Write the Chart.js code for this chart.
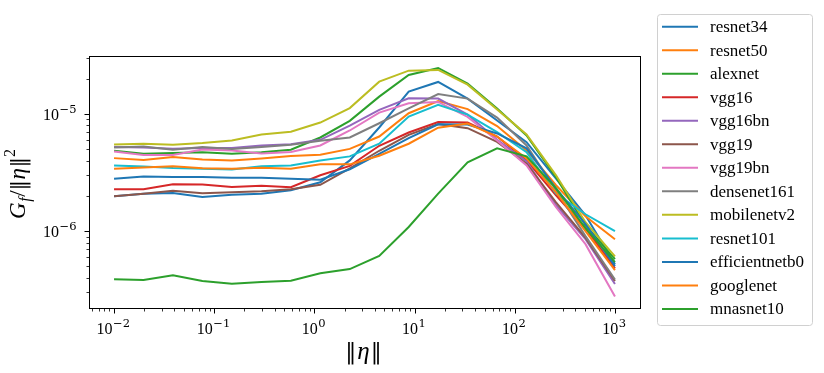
<!DOCTYPE html>
<html>
<head>
<meta charset="utf-8">
<script src="https://cdn.jsdelivr.net/npm/chart.js@4.4.1/dist/chart.umd.min.js"></script>
<style>
	html, body { margin: 0; padding: 0; background: #fff; }
	canvas { display: block; }
</style>
</head>
<body>
<canvas id="chart" width="824" height="373" style="width:824px;height:373px"></canvas>
<script>
'use strict';

// noise norm ||eta|| (x axis, log spaced)
var eta = [0.01, 0.0197, 0.0387, 0.0762, 0.150, 0.296, 0.582, 1.145, 2.254, 4.437, 8.733, 17.19, 33.83, 66.6, 131.1, 258.0, 507.9, 1000];

// G_f / ||eta||^2 per network
var resnet34 = [1.986e-6, 2.086e-6, 2.119e-6, 1.959e-6, 2.046e-6, 2.086e-6, 2.234e-6, 2.616e-6, 4.02e-6, 7.68e-6, 15.54e-6, 18.80e-6, 13.55e-6, 8.80e-6, 5.75e-6, 2.81e-6, 1.368e-6, 0.523e-6];
var resnet50 = [4.205e-6, 4.06e-6, 4.29e-6, 4.10e-6, 4.02e-6, 4.18e-6, 4.39e-6, 4.50e-6, 5.04e-6, 6.43e-6, 10.16e-6, 12.90e-6, 11.03e-6, 7.90e-6, 4.89e-6, 2.467e-6, 1.342e-6, 0.855e-6];
var alexnet = [4.86e-6, 4.58e-6, 4.64e-6, 4.73e-6, 4.58e-6, 4.73e-6, 4.96e-6, 6.31e-6, 8.75e-6, 14.09e-6, 21.56e-6, 24.74e-6, 18.18e-6, 11.14e-6, 6.57e-6, 2.89e-6, 1.124e-6, 0.577e-6];
var vgg16 = [2.278e-6, 2.278e-6, 2.515e-6, 2.505e-6, 2.38e-6, 2.443e-6, 2.372e-6, 3.00e-6, 3.61e-6, 5.36e-6, 6.96e-6, 8.545e-6, 8.46e-6, 6.43e-6, 4.02e-6, 2.026e-6, 1.061e-6, 0.482e-6];
var vgg16bn = [5.24e-6, 5.19e-6, 5.06e-6, 5.14e-6, 5.14e-6, 5.39e-6, 5.52e-6, 6.03e-6, 7.98e-6, 10.86e-6, 13.63e-6, 13.55e-6, 9.90e-6, 6.03e-6, 3.94e-6, 1.665e-6, 0.855e-6, 0.354e-6];
var vgg19 = [1.986e-6, 2.086e-6, 2.212e-6, 2.107e-6, 2.148e-6, 2.191e-6, 2.278e-6, 2.491e-6, 3.44e-6, 4.86e-6, 6.65e-6, 8.22e-6, 7.57e-6, 5.78e-6, 3.77e-6, 1.765e-6, 0.880e-6, 0.376e-6];
var vgg19bn = [4.795e-6, 4.48e-6, 4.48e-6, 4.99e-6, 4.89e-6, 4.61e-6, 4.75e-6, 5.39e-6, 7.24e-6, 10.30e-6, 12.36e-6, 12.70e-6, 9.44e-6, 5.95e-6, 3.645e-6, 1.601e-6, 0.775e-6, 0.2775e-6];
var densenet161 = [5.19e-6, 5.29e-6, 4.96e-6, 5.22e-6, 5.02e-6, 5.24e-6, 5.47e-6, 5.91e-6, 6.31e-6, 8.35e-6, 11.20e-6, 14.80e-6, 13.55e-6, 9.33e-6, 5.39e-6, 2.234e-6, 0.907e-6, 0.387e-6];
var mobilenetv2 = [5.50e-6, 5.58e-6, 5.47e-6, 5.66e-6, 5.95e-6, 6.69e-6, 7.06e-6, 8.46e-6, 11.25e-6, 18.91e-6, 23.46e-6, 23.78e-6, 17.83e-6, 10.92e-6, 6.69e-6, 3.00e-6, 1.192e-6, 0.609e-6];
var resnet101 = [3.645e-6, 3.57e-6, 3.46e-6, 3.42e-6, 3.355e-6, 3.58e-6, 3.645e-6, 4.02e-6, 4.35e-6, 5.58e-6, 9.52e-6, 11.97e-6, 9.90e-6, 7.00e-6, 4.73e-6, 2.093e-6, 1.395e-6, 1.000e-6];
var efficientnetb0 = [2.81e-6, 2.925e-6, 2.903e-6, 2.903e-6, 2.857e-6, 2.857e-6, 2.81e-6, 2.747e-6, 3.375e-6, 4.58e-6, 6.22e-6, 8.18e-6, 8.14e-6, 6.83e-6, 5.09e-6, 2.323e-6, 1.147e-6, 0.503e-6];
var googlenet = [3.42e-6, 3.49e-6, 3.58e-6, 3.44e-6, 3.42e-6, 3.48e-6, 3.42e-6, 3.73e-6, 3.72e-6, 4.41e-6, 5.58e-6, 7.65e-6, 8.30e-6, 6.43e-6, 4.18e-6, 2.148e-6, 1.000e-6, 0.466e-6];
var mnasnet10 = [0.388e-6, 0.383e-6, 0.420e-6, 0.376e-6, 0.356e-6, 0.368e-6, 0.378e-6, 0.437e-6, 0.475e-6, 0.616e-6, 1.087e-6, 2.093e-6, 3.87e-6, 5.09e-6, 4.35e-6, 2.323e-6, 1.061e-6, 0.544e-6];

var names = ['resnet34', 'resnet50', 'alexnet', 'vgg16', 'vgg16bn', 'vgg19', 'vgg19bn', 'densenet161', 'mobilenetv2', 'resnet101', 'efficientnetb0', 'googlenet', 'mnasnet10'];
var series = [resnet34, resnet50, alexnet, vgg16, vgg16bn, vgg19, vgg19bn, densenet161, mobilenetv2, resnet101, efficientnetb0, googlenet, mnasnet10];

// matplotlib tab10 cycle
var colors = ['#1f77b4', '#ff7f0e', '#2ca02c', '#d62728', '#9467bd', '#8c564b', '#e377c2', '#7f7f7f', '#bcbd22', '#17becf'];

// major ticks: value and exponent shown as 10^exp
var xTickValues = [1e-2, 1e-1, 1, 10, 100, 1000];
var xTickExps = ['\u22122', '\u22121', '0', '1', '2', '3'];
var yTickValues = [1e-6, 1e-5];
var yTickExps = ['\u22126', '\u22125'];

// axis limits (matplotlib 5% margins in log space)
var xMin = 0.005623, xMax = 1778;
var yMin = 2.21e-7, yMax = 3.13e-5;

var serif = '"Liberation Serif", "DejaVu Serif", serif';
var barFont = '"DejaVu Serif", serif';

function minorValues(min, max) {
	var out = [];
	for( var e = -8; e <= 4; e++ ) {
		for( var m = 2; m <= 9; m++ ) {
			var v = m * Math.pow(10, e);
			if( v >= min && v <= max ) out.push(v);
		}
	}
	return out;
}

// draws a list of text pieces side by side, centred on 0
function drawPieces(ctx, parts) {
	var total = 0;
	parts.forEach(function( p ) {
		ctx.font = p.f;
		p.w = ctx.measureText(p.t).width + (p.gap || 0);
		total += p.w;
	});
	var x = -total / 2;
	parts.forEach(function( p ) {
		ctx.font = p.f;
		ctx.fillText(p.t, x + (p.gap || 0) / 2, p.dy || 0);
		x += p.w;
	});
}

var decor = {
	id: 'decor',
	afterDraw: function( chart ) {
		var ctx = chart.ctx;
		var a = chart.chartArea;
		var xs = chart.scales.x;
		var ys = chart.scales.y;
		var L = Math.round(a.left) + 0.5, R = Math.round(a.right) + 0.5;
		var T = Math.round(a.top) + 0.5, B = Math.round(a.bottom) + 0.5;

		ctx.save();
		ctx.strokeStyle = '#000';
		ctx.fillStyle = '#000';

		// frame
		ctx.lineWidth = 1;
		ctx.strokeRect(L, T, R - L, B - T);

		// ticks, outward
		ctx.beginPath();
		xTickValues.forEach(function( v ) {
			var px = Math.round(xs.getPixelForValue(v)) + 0.5;
			ctx.moveTo(px, B); ctx.lineTo(px, B + 5);
		});
		yTickValues.forEach(function( v ) {
			var py = Math.round(ys.getPixelForValue(v)) + 0.5;
			ctx.moveTo(L, py); ctx.lineTo(L - 5, py);
		});
		ctx.stroke();
		ctx.lineWidth = 0.8;
		ctx.beginPath();
		minorValues(xMin, xMax).forEach(function( v ) {
			var px = Math.round(xs.getPixelForValue(v)) + 0.5;
			ctx.moveTo(px, B); ctx.lineTo(px, B + 3);
		});
		minorValues(yMin, yMax).forEach(function( v ) {
			var py = Math.round(ys.getPixelForValue(v)) + 0.5;
			ctx.moveTo(L, py); ctx.lineTo(L - 3, py);
		});
		ctx.stroke();

		// tick labels 10^n
		ctx.textAlign = 'left';
		ctx.textBaseline = 'alphabetic';
		var baseFont = '16px ' + serif, supFont = '11.5px ' + barFont;
		xTickValues.forEach(function( v, i ) {
			var px = xs.getPixelForValue(v);
			ctx.font = baseFont;
			var w1 = ctx.measureText('10').width;
			ctx.font = supFont;
			var w2 = ctx.measureText(xTickExps[i]).width;
			var x0 = px - (w1 + w2) / 2 - 1;
			ctx.font = baseFont;
			ctx.fillText('10', x0, B + 25);
			ctx.font = supFont;
			ctx.fillText(xTickExps[i], x0 + w1 + 0.5, B + 18);
		});
		yTickValues.forEach(function( v, i ) {
			var py = ys.getPixelForValue(v);
			ctx.font = supFont;
			var w2 = ctx.measureText(yTickExps[i]).width;
			ctx.font = baseFont;
			var w1 = ctx.measureText('10').width;
			var right = L - 13;
			ctx.fillText('10', right - w2 - w1 - 0.5, py + 5.5);
			ctx.font = supFont;
			ctx.fillText(yTickExps[i], right - w2, py - 1.5);
		});

		// x title ||eta||
		ctx.save();
		ctx.translate((a.left + a.right) / 2 - 1, 359);
		drawPieces(ctx, [
			{ t: '\u2016', f: '22px ' + barFont, gap: 1 },
			{ t: '\u03b7', f: 'italic 25px ' + serif, gap: 1 },
			{ t: '\u2016', f: '22px ' + barFont, gap: 1 }
		]);
		ctx.restore();

		// y title G_f / ||eta||^2, rotated
		ctx.save();
		ctx.translate(25, (a.top + a.bottom) / 2 + 2);
		ctx.rotate(-Math.PI / 2);
		drawPieces(ctx, [
			{ t: 'G', f: 'italic 23px ' + serif },
			{ t: 'f', f: 'italic 16px ' + serif, dy: 5, gap: 1 },
			{ t: '/', f: '23px ' + serif },
			{ t: '\u2016', f: '21px ' + barFont },
			{ t: '\u03b7', f: 'italic 23px ' + serif, gap: 1 },
			{ t: '\u2016', f: '21px ' + barFont },
			{ t: '2', f: '16px ' + serif, dy: -10 }
		]);
		ctx.restore();

		// legend box
		ctx.beginPath();
		ctx.roundRect(657.5, 14.5, 155, 311, 3);
		ctx.fillStyle = 'rgba(255,255,255,0.8)';
		ctx.fill();
		ctx.strokeStyle = '#d0d0d0';
		ctx.lineWidth = 1;
		ctx.stroke();

		ctx.font = '17px ' + serif;
		chart.data.datasets.forEach(function( ds, i ) {
			var yy = 26.7 + i * 23.52;
			ctx.strokeStyle = ds.borderColor;
			ctx.lineWidth = 2;
			ctx.beginPath();
			ctx.moveTo(662, yy); ctx.lineTo(698, yy);
			ctx.stroke();
			ctx.fillStyle = '#000';
			ctx.fillText(ds.label, 710, yy + 5.5);
		});

		ctx.restore();
	}
};

var datasets = names.map(function( name, i ) {
	return {
		label: name,
		data: eta.map(function( x, j ) { return { x: x, y: series[i][j] }; }),
		borderColor: colors[i % colors.length],
		backgroundColor: colors[i % colors.length],
		borderWidth: 2,
		pointRadius: 0,
		tension: 0,
		fill: false,
		order: -i   // later series on top, as in matplotlib
	};
});

var ctx = document.getElementById('chart').getContext('2d');
window.gChart = new Chart(ctx, {
	type: 'line',
	data: { datasets: datasets },
	options: {
		responsive: false,
		animation: false,
		devicePixelRatio: 1,
		events: [],
		layout: { padding: { left: 0, top: 56, right: 184, bottom: 0 } },
		plugins: { legend: { display: false }, tooltip: { enabled: false } },
		scales: {
			x: {
				type: 'logarithmic',
				min: xMin, max: xMax,
				grid: { display: false },
				border: { display: false },
				ticks: { display: false },
				afterFit: function( scale ) { scale.height = 65; }
			},
			y: {
				type: 'logarithmic',
				min: yMin, max: yMax,
				grid: { display: false },
				border: { display: false },
				ticks: { display: false },
				afterFit: function( scale ) { scale.width = 89; }
			}
		}
	},
	plugins: [decor]
});
</script>
</body>
</html>
